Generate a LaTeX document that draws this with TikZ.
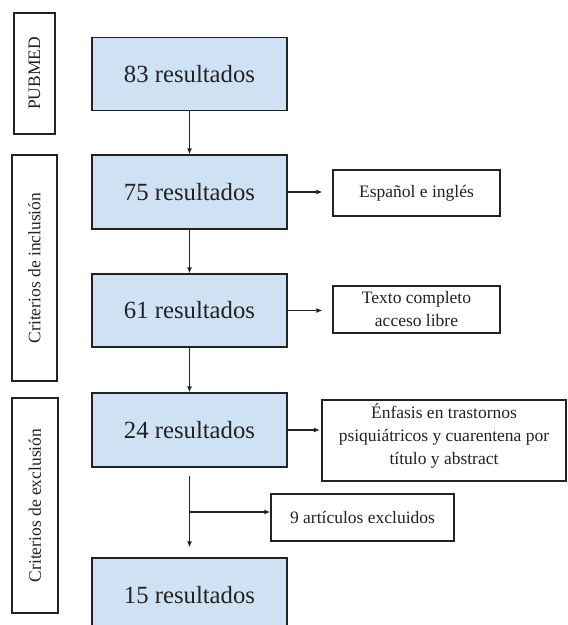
\documentclass[tikz,border=0pt]{standalone}
\usepackage{fontspec}
\setmainfont{Liberation Serif}
\usetikzlibrary{arrows.meta}
\definecolor{boxblue}{HTML}{CFE2F3}
\definecolor{ink}{HTML}{222222}
\begin{document}
\begin{tikzpicture}[x=1pt,y=-1pt,
  mainbox/.style={draw=ink, line width=1.2pt, fill=boxblue, minimum width=195pt, minimum height=73pt, inner sep=0pt, font=\fontsize{24.7}{30}\selectfont, text=ink},
  sidebox/.style={draw=ink, line width=1.2pt, fill=white, inner sep=0pt, align=center, font=\fontsize{17.5}{23}\selectfont, text=ink},
  tagbox/.style={draw=ink, line width=1.2pt, rotate=90, inner sep=0pt, font=\fontsize{17.5}{21}\selectfont, text=ink},
  arr/.style={draw=ink, line width=1.2pt, -{Latex[length=6pt,width=5pt]}}]
\useasboundingbox (0,0) rectangle (568,625);
\clip (0,0) rectangle (568,625);
\fill[white] (0,0) rectangle (568,625);

\node[mainbox] (b83) at (189.5,74) {83 resultados};
\node[mainbox, minimum height=74pt] (b75) at (189.5,192) {75 resultados};
\node[mainbox] (b61) at (189.5,310.5) {61 resultados};
\node[mainbox, minimum height=74pt] (b24) at (189.5,430) {24 resultados};
\node[mainbox, minimum height=74pt] (b15) at (189.5,595) {15 resultados};

\node[sidebox, minimum width=167pt, minimum height=46pt] (esp) at (416.5,193) {Español e inglés};
\node[sidebox, minimum width=167pt, minimum height=47pt] (txt) at (416.5,309.5) {Texto completo\\acceso libre};
\node[sidebox, minimum width=244pt, minimum height=81pt, text depth=14pt] (enf) at (444,440.5) {Énfasis en trastornos\\psiquiátricos y cuarentena por\\título y abstract};
\node[sidebox, minimum width=183pt, minimum height=47pt] (art) at (362.5,517.5) {9 artículos excluidos};

\node[tagbox, minimum width=121pt, minimum height=41pt] (pub) at (34.5,73.5) {PUBMED};
\node[tagbox, minimum width=226pt, minimum height=45pt] (inc) at (34.5,268) {Criterios de inclusión};
\node[tagbox, minimum width=215pt, minimum height=46pt] (exc) at (35,505.5) {Criterios de exclusión};

\draw[arr] (b83) -- (b75);
\draw[arr] (b75) -- (b61);
\draw[arr] (b61) -- (b24);
\draw[arr, shorten >=10pt] (b75.east) -- (b75.east -| esp.west);
\draw[arr, shorten >=10pt] (b61.east) -- (b61.east -| txt.west);
\draw[arr, shorten >=1.5pt] (b24.east) -- (b24.east -| enf.west);
\draw[arr, shorten <=8pt, shorten >=10pt] (b24) -- (b15);
\coordinate (br) at (189.5,512);
\draw[arr] (br) -- (br -| art.west);
\end{tikzpicture}
\end{document}
